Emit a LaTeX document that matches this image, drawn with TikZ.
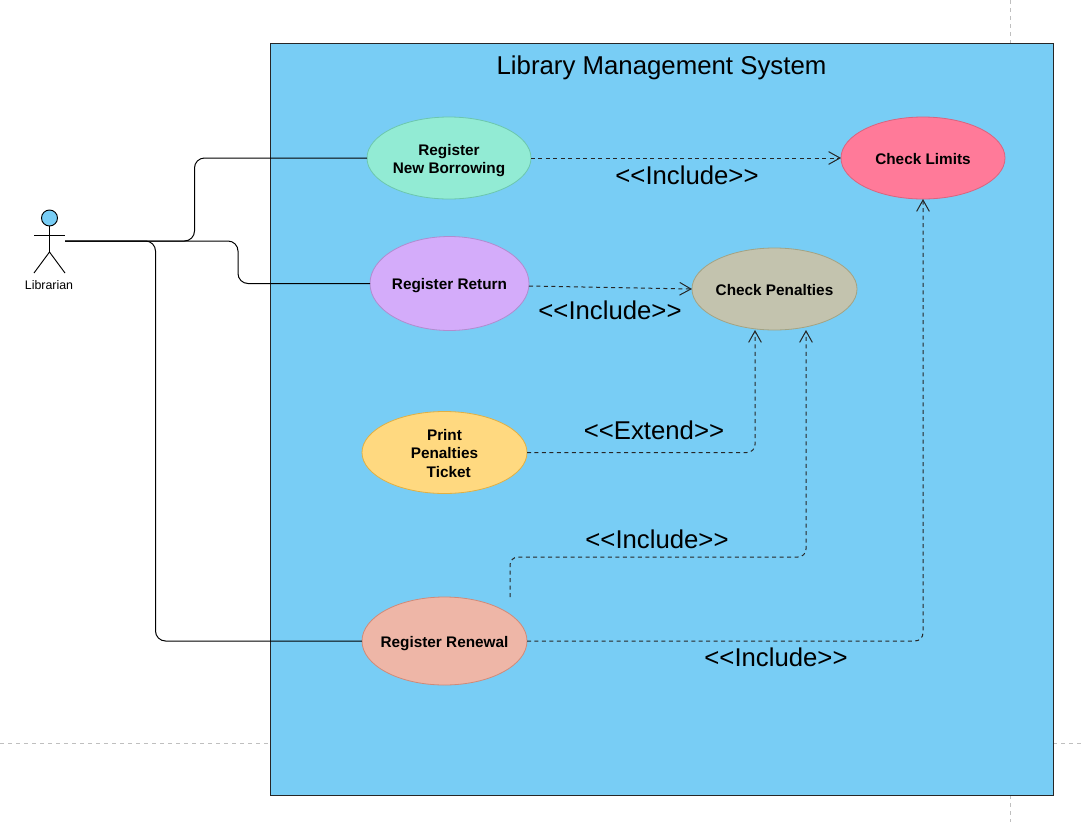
\documentclass[tikz,border=0pt]{standalone}
\usepackage{fontspec}
\setmainfont{Liberation Sans}
\usetikzlibrary{arrows.meta,shapes.geometric}
\definecolor{sysblue}{HTML}{78CDF5}
\definecolor{bBorrow}{HTML}{6CC7AE}
\definecolor{bLimits}{HTML}{D9647F}
\definecolor{bReturn}{HTML}{B08CCF}
\definecolor{bPen}{HTML}{A3A383}
\definecolor{bPrint}{HTML}{E0B044}
\definecolor{bRenew}{HTML}{D08A78}
\newcommand{\tup}[1]{\rule{0pt}{#1}}
\tikzset{
  uc/.style={ellipse,draw=#1,inner xsep=-30pt,inner ysep=0pt,outer sep=0pt,line width=0.6pt,font=\fontsize{11.5}{13.6}\selectfont\bfseries,align=center,text=black},
  guide/.style={draw=black!25,line width=0.75pt,dash pattern=on 3pt off 3pt},
  assoc/.style={draw=black,line width=0.75pt,rounded corners=7.5pt},
  dep/.style={draw=black!85,line width=0.75pt,dash pattern=on 3pt off 2.6pt,rounded corners=6pt,-{Straight Barb[length=8.5pt,width=9.5pt,line width=0.75pt]}},
  lab/.style={font=\fontsize{19.3}{23}\selectfont,inner sep=0pt,text=black},
  actorline/.style={draw=black,line width=0.7pt}
}
\begin{document}
\begin{tikzpicture}[x=0.75pt,y=-0.75pt]
\useasboundingbox (0,0) rectangle (1083,822);
\fill[white] (0,0) rectangle (1083,822);
% page guides
\coordinate (gv1) at (1010,0); \coordinate (gv2) at (1010,43);
\coordinate (gv3) at (1010,795); \coordinate (gv4) at (1010,822);
\coordinate (gh1) at (0,743); \coordinate (gh2) at (270,743);
\coordinate (gh3) at (1053,743); \coordinate (gh4) at (1083,743);
\draw[guide] (gv1) -- (gv2);
\draw[guide] (gv3) -- (gv4);
\draw[guide] (gh1) -- (gh2);
\draw[guide] (gh3) -- (gh4);
% system
\node[draw=black!85,fill=sysblue,line width=0.6pt,inner sep=0pt,outer sep=0pt,minimum width=783*0.75pt,minimum height=752*0.75pt] (system) at (661.5,419) {};
\node[font=\fontsize{19.35}{24}\selectfont,inner sep=0pt,text=black] (title) at (661.5,67.5) {Library Management System};
% use cases
\node[uc=bBorrow,fill={rgb,255:red,146;green,235;blue,212},minimum width=164*0.75pt,minimum height=82*0.75pt] (borrow) at (449,158) {\tup{12.7pt}Register\\New Borrowing};
\node[uc=bLimits,fill={rgb,255:red,255;green,122;blue,153},minimum width=164*0.75pt,minimum height=82*0.75pt] (limits) at (923,158) {\tup{9.7pt}Check Limits};
\node[uc=bReturn,fill={rgb,255:red,212;green,172;blue,250},minimum width=159*0.75pt,minimum height=94*0.75pt] (return) at (449.5,283.5) {\tup{11.2pt}Register Return};
\node[uc=bPen,fill={rgb,255:red,195;green,195;blue,174},minimum width=165*0.75pt,minimum height=82*0.75pt] (penalties) at (774.5,289) {\tup{9.7pt}Check Penalties};
\node[uc=bPrint,fill={rgb,255:red,255;green,217;blue,128},minimum width=165*0.75pt,minimum height=82*0.75pt] (print) at (444.5,452.5) {\tup{9.7pt}Print\\Penalties\\\ \ Ticket};
\node[uc=bRenew,fill={rgb,255:red,238;green,182;blue,167},minimum width=165*0.75pt,minimum height=88*0.75pt] (renewal) at (444.5,641) {\tup{12.7pt}Register Renewal};
% actor
\node[circle,draw=black,fill=sysblue,line width=0.7pt,minimum size=16*0.75pt,inner sep=0pt,outer sep=0pt] (head) at (49.5,218) {};
\coordinate (hip) at (49.5,252);
\coordinate (armL) at (34,235); \coordinate (armR) at (65,235);
\coordinate (footL) at (34,273); \coordinate (footR) at (65,273);
\coordinate (actor) at (65,241);
\draw[actorline] (head.south) -- (hip);
\draw[actorline] (armL) -- (armR);
\draw[actorline] (footL) -- (hip) -- (footR);
\node[font=\fontsize{9.3}{10}\selectfont,inner sep=0pt,text=black] (librarian) at (49,285.5) {Librarian};
% associations
\draw[assoc] (actor) -- (194.5,241) -- (194.5,158) -- (borrow.west);
\draw[assoc] (actor) -- (238,241) -- (238,283.5) -- (return.west);
\draw[assoc] (actor) -- (155.5,241) -- (155.5,641) -- (renewal.west);
% dependencies
\draw[dep] (borrow.east) -- (limits.west);
\coordinate (retOut) at (529,286);
\draw[dep] (retOut) -- (penalties.west);
\coordinate (penIn1) at (755,330);
\coordinate (penIn2) at (806,330);
\coordinate (limIn) at (923,199);
\coordinate (renTop) at (510,597);
\draw[dep] (print.east) -- (755,452.5) -- (penIn1);
\draw[dep] (renTop) -- (510,557) -- (806,557) -- (penIn2);
\draw[dep] (renewal.east) -- (923,641) -- (limIn);
% labels
\node[lab] (l1) at (687,175) {<{}<Include>{}>};
\node[lab] (l2) at (610,310) {<{}<Include>{}>};
\node[lab] (l3) at (654,430.5) {<{}<Extend>{}>};
\node[lab] (l4) at (657,539) {<{}<Include>{}>};
\node[lab] (l5) at (776,657) {<{}<Include>{}>};
\end{tikzpicture}
\end{document}
